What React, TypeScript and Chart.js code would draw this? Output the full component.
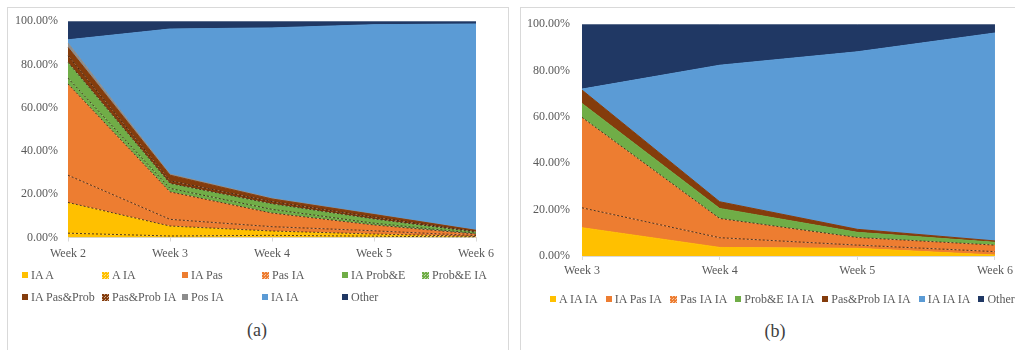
import React, { useEffect, useRef } from "react";
import { Chart, registerables } from "chart.js";

Chart.register(...registerables);

// ---------- Panel (a): weeks 2–6 ----------
const weeksA = ["Week 2", "Week 3", "Week 4", "Week 5", "Week 6"];
const namesA = [
  "IA A", "A IA", "IA Pas", "Pas IA", "IA Prob&E", "Prob&E IA",
  "IA Pas&Prob", "Pas&Prob IA", "Pos IA", "IA IA", "Other",
];
const iaA = [2.0, 0.7, 1.0, 0.6, 0.2];
const aIa = [14.2, 4.6, 2.0, 1.0, 0.3];
const iaPas = [12.6, 3.1, 2.0, 1.5, 0.4];
const pasIa = [42.2, 12.7, 6.3, 2.7, 0.7];
const iaProbE = [2.7, 1.6, 1.7, 0.8, 0.3];
const probEIa = [7.3, 2.3, 2.6, 2.0, 0.6];
const iaPasProb = [3.1, 1.2, 1.0, 0.8, 0.3];
const pasProbIa = [3.8, 2.6, 1.2, 1.2, 0.5];
const posIa = [2.0, 0.5, 0.3, 0.2, 0.1];
const iaIa = [1.5, 67.1, 78.8, 87.6, 95.3];
const otherA = [8.6, 3.6, 3.1, 1.6, 1.3];
const valuesA = [iaA, aIa, iaPas, pasIa, iaProbE, probEIa, iaPasProb, pasProbIa, posIa, iaIa, otherA];

// ---------- Panel (b): weeks 3–6 ----------
const weeksB = ["Week 3", "Week 4", "Week 5", "Week 6"];
const namesB = [
  "A IA IA", "IA Pas IA", "Pas IA IA", "Prob&E IA IA",
  "Pas&Prob IA IA", "IA IA IA", "Other",
];
const aIaIa = [12.2, 3.7, 3.3, 0.4];
const iaPasIaIa = [8.6, 4.2, 1.4, 1.5];
const pasIaIa = [39.0, 8.3, 3.3, 2.8];
const probEIaIa = [6.0, 4.3, 2.2, 1.2];
const pasProbIaIa = [5.8, 2.9, 1.3, 0.6];
const iaIaIa = [0.4, 58.9, 76.6, 89.7];
const otherB = [28.0, 17.7, 11.9, 3.8];
const valuesB = [aIaIa, iaPasIaIa, pasIaIa, probEIaIa, pasProbIaIa, iaIaIa, otherB];

const yTicks = [0, 20, 40, 60, 80, 100];

// ---------- styling ----------
const YELLOW = "#FFC000";
const ORANGE = "#ED7D31";
const GREEN = "#70AD47";
const BROWN = "#843C0C";
const GRAY = "#8C8C8C";
const BLUE = "#5B9BD5";
const NAVY = "#203864";
const DASH = "rgba(50,30,15,0.85)";
const TEXT = "#595959";
const SERIF = "'Liberation Serif', 'Times New Roman', serif";

const colorsA = [YELLOW, YELLOW, ORANGE, ORANGE, GREEN, GREEN, BROWN, BROWN, GRAY, BLUE, NAVY];
const patternedA = [false, true, false, true, false, true, false, true, false, false, false];
const dashedTopA = [true, true, true, true, true, true, true, false, false, false, false];

const colorsB = [YELLOW, ORANGE, ORANGE, GREEN, BROWN, BLUE, NAVY];
const patternedB = [false, false, true, false, false, false, false];
const dashedTopB = [false, true, true, false, false, false, false];

type PanelCfg = {
  labels: string[];
  names: string[];
  values: number[][];
  colors: string[];
  dashedTop: boolean[];
  width: number;
  height: number;
  yAxisWidth: number;
  xAxisHeight: number;
  padding: { top: number; right: number; bottom: number; left: number };
  yPad: number;
  xPad: number;
};

function buildChart(canvas: HTMLCanvasElement, cfg: PanelCfg) {
  const datasets = cfg.names.map((name, i) => ({
    label: name,
    data: cfg.values[i],
    backgroundColor: cfg.colors[i],
    borderColor: cfg.dashedTop[i] ? DASH : cfg.colors[i],
    borderWidth: 1,
    borderDash: cfg.dashedTop[i] ? [2, 2] : [],
    fill: i === 0 ? "origin" : "-1",
    pointRadius: 0,
    tension: 0,
  }));
  return new Chart(canvas, {
    type: "line",
    data: { labels: cfg.labels, datasets },
    options: {
      animation: false,
      responsive: false,
      maintainAspectRatio: false,
      layout: { padding: cfg.padding },
      plugins: { legend: { display: false }, tooltip: { enabled: false } },
      scales: {
        x: {
          grid: { display: true, drawOnChartArea: false, drawTicks: true, tickLength: 4, color: "#D9D9D9" },
          border: { display: true, color: "#D9D9D9" },
          ticks: { color: TEXT, font: { family: SERIF, size: 12 }, padding: cfg.xPad, maxRotation: 0, autoSkip: false },
          afterFit: (s: any) => { s.height = cfg.xAxisHeight; },
        },
        y: {
          stacked: true,
          min: 0,
          max: 100,
          grid: { display: false, drawTicks: false },
          border: { display: false },
          afterBuildTicks: (s: any) => { s.ticks = yTicks.map((v) => ({ value: v })); },
          ticks: {
            color: TEXT,
            font: { family: SERIF, size: 12 },
            padding: cfg.yPad,
            callback: (v: any) => Number(v).toFixed(2) + "%",
          },
          afterFit: (s: any) => { s.width = cfg.yAxisWidth; },
        },
      },
    },
  });
}

function ChartCanvas({ cfg, left, top }: { cfg: PanelCfg; left: number; top: number }) {
  const ref = useRef<HTMLCanvasElement | null>(null);
  useEffect(() => {
    if (!ref.current) return;
    const chart = buildChart(ref.current, cfg);
    return () => chart.destroy();
  }, []);
  return (
    <canvas
      ref={ref}
      width={cfg.width}
      height={cfg.height}
      style={{ position: "absolute", left, top, width: cfg.width, height: cfg.height }}
    />
  );
}

function Marker({ color, patterned }: { color: string; patterned: boolean }) {
  const style: React.CSSProperties = {
    display: "inline-block",
    width: 6,
    height: 6,
    background: color,
    marginRight: 3,
    flex: "0 0 auto",
  };
  if (patterned) {
    style.backgroundImage =
      "linear-gradient(45deg, rgba(255,255,255,0.55) 25%, transparent 25%, transparent 75%, rgba(255,255,255,0.55) 75%)";
    style.backgroundSize = "3px 3px";
    style.width = 7;
    style.height = 7;
  }
  return <span style={style} />;
}

const cfgA: PanelCfg = {
  labels: weeksA,
  names: namesA,
  values: valuesA,
  colors: colorsA,
  dashedTop: dashedTopA,
  width: 490,
  height: 271,
  yAxisWidth: 58,
  xAxisHeight: 37.5,
  padding: { top: 0, right: 24, bottom: 0, left: 0 },
  yPad: 10,
  xPad: 5,
};

const cfgB: PanelCfg = {
  labels: weeksB,
  names: namesB,
  values: valuesB,
  colors: colorsB,
  dashedTop: dashedTopB,
  width: 495,
  height: 289,
  yAxisWidth: 60,
  xAxisHeight: 38,
  padding: { top: 0, right: 22, bottom: 0, left: 0 },
  yPad: 12,
  xPad: 4,
};

export default function App() {
  const legendText: React.CSSProperties = {
    fontFamily: SERIF,
    fontSize: 12,
    color: TEXT,
    whiteSpace: "nowrap",
    lineHeight: "14px",
  };
  return (
    <div
      style={{
        position: "fixed",
        left: 0,
        top: 0,
        width: 1015,
        height: 350,
        overflow: "hidden",
        background: "#fff",
        fontFamily: SERIF,
      }}
    >
      {/* panel frames */}
      <div style={{ position: "absolute", left: 7, top: 7, width: 500, height: 370, border: "1px solid #D9D9D9" }} />
      <div style={{ position: "absolute", left: 520, top: 7, width: 510, height: 370, border: "1px solid #D9D9D9" }} />

      <ChartCanvas cfg={cfgA} left={10} top={4} />
      <ChartCanvas cfg={cfgB} left={522} top={5} />

      {/* legend (a): two rows laid out in columns */}
      {namesA.map((name, i) => {
        const row = i < 6 ? 0 : 1;
        const col = i < 6 ? i : i - 6;
        return (
          <div
            key={name}
            style={{
              position: "absolute",
              left: 22 + col * 80,
              top: 268 + row * 22,
              display: "flex",
              alignItems: "center",
              ...legendText,
            }}
          >
            <Marker color={colorsA[i]} patterned={patternedA[i]} />
            <span>{name}</span>
          </div>
        );
      })}

      {/* legend (b): single row */}
      <div
        style={{
          position: "absolute",
          left: 550,
          top: 292,
          display: "flex",
          alignItems: "center",
          gap: 8,
          ...legendText,
        }}
      >
        {namesB.map((name, i) => (
          <div key={name} style={{ display: "flex", alignItems: "center" }}>
            <Marker color={colorsB[i]} patterned={patternedB[i]} />
            <span>{name}</span>
          </div>
        ))}
      </div>

      {/* panel captions */}
      <div style={{ position: "absolute", left: 237, width: 40, top: 320, textAlign: "center", fontSize: 18, color: "#404040" }}>
        (a)
      </div>
      <div style={{ position: "absolute", left: 755, width: 40, top: 321, textAlign: "center", fontSize: 18, color: "#404040" }}>
        (b)
      </div>
    </div>
  );
}
